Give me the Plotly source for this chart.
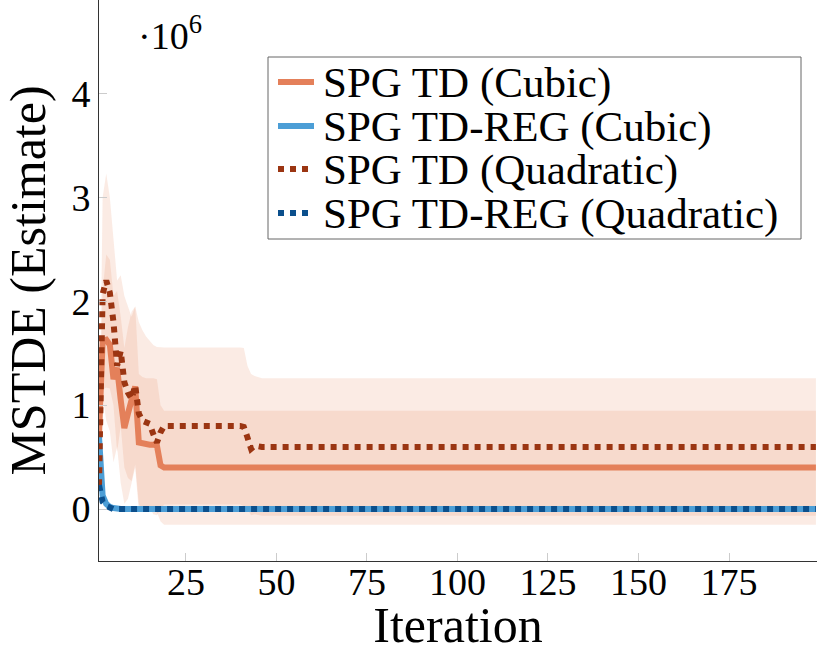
import plotly.graph_objects as go

# ---------------- data (values in units of 1e6) ----------------
cubic_x = [1, 2, 3, 4, 5, 6, 7, 8, 9, 10, 11, 12, 13, 14, 15, 16, 17, 18, 19, 199]
td_cubic = [0.70, 1.62, 1.63, 1.58, 1.25, 1.36, 1.05, 0.78, 0.92, 1.08, 1.18, 0.64,
            0.63, 0.62, 0.62, 0.62, 0.61, 0.42, 0.40, 0.40]
td_cubic_upper = [0.75, 2.10, 2.45, 2.40, 2.05, 2.10, 1.85, 1.55, 1.75, 1.90, 1.95, 1.30,
                  1.27, 1.26, 1.26, 1.26, 1.25, 1.00, 0.946, 0.946]
td_cubic_lower = [0.65, 1.10, 0.85, 0.75, 0.45, 0.60, 0.25, 0.05, 0.10, 0.25, 0.40, -0.02,
                  -0.02, -0.02, -0.02, -0.02, -0.03, -0.12, -0.15, -0.15]

quad_x = [1, 2, 3, 4, 5, 6, 7, 8, 9, 10, 11, 12, 13, 14, 15, 16, 17, 18, 19,
          40, 41, 42, 43, 44, 45, 46, 199]
td_quad = [0.23, 2.07, 2.20, 2.08, 1.80, 1.38, 1.52, 1.22, 1.12, 1.06, 1.19, 0.92, 0.85,
           0.84, 0.82, 0.72, 0.64, 0.74, 0.80, 0.80, 0.79, 0.69, 0.58, 0.61, 0.60, 0.597, 0.597]
td_quad_upper = [0.30, 3.00, 3.23, 3.00, 2.60, 2.20, 2.25, 2.05, 1.95, 1.85, 1.95, 1.80, 1.72,
                 1.66, 1.62, 1.58, 1.56, 1.556, 1.556, 1.556, 1.55, 1.38, 1.30, 1.28, 1.27,
                 1.258, 1.258]
td_quad_lower = [0.16, 1.15, 1.17, 1.16, 1.00, 0.55, 0.80, 0.40, 0.30, 0.27, 0.43, 0.05, -0.02,
                 0.02, 0.02, -0.05, -0.06, 0.0, 0.044, 0.044, 0.03, 0.0, -0.06, -0.05, -0.06,
                 -0.064, -0.064]

reg_cubic_x = [1, 2, 3, 4, 5, 6, 7, 199]
reg_cubic = [0.70, 0.13, 0.05, 0.02, 0.01, 0.005, 0.0, 0.0]

reg_quad_x = [1, 2, 3, 4, 5, 199]
reg_quad = [0.23, 0.07, 0.03, 0.01, 0.0, 0.0]

series_names = ["SPG TD (Cubic)", "SPG TD-REG (Cubic)",
                "SPG TD (Quadratic)", "SPG TD-REG (Quadratic)"]
x_ticks = [25, 50, 75, 100, 125, 150, 175]
y_ticks = [0, 1, 2, 3, 4]

# ---------------- styles ----------------
C_ORANGE = "#E4805A"
C_LBLUE = "#4C9ED6"
C_DRED = "#9B3512"
C_DBLUE = "#0B4F8C"
BAND = "rgba(228,128,88,0.16)"
FONT = "Liberation Serif"
LW = 6

fig = go.Figure()

# bands
for xs, up, lo in [(cubic_x, td_cubic_upper, td_cubic_lower),
                   (quad_x, td_quad_upper, td_quad_lower)]:
    fig.add_trace(go.Scatter(x=list(xs) + list(xs)[::-1], y=list(up) + list(lo)[::-1],
                             fill="toself", fillcolor=BAND, line=dict(width=0),
                             mode="lines", showlegend=False, hoverinfo="skip"))

# lines
fig.add_trace(go.Scatter(x=cubic_x, y=td_cubic, mode="lines", name=series_names[0],
                         line=dict(color=C_ORANGE, width=LW)))
fig.add_trace(go.Scatter(x=reg_cubic_x, y=reg_cubic, mode="lines", name=series_names[1],
                         line=dict(color=C_LBLUE, width=LW)))
fig.add_trace(go.Scatter(x=quad_x, y=td_quad, mode="lines", name=series_names[2],
                         line=dict(color=C_DRED, width=LW, dash="dot")))
fig.add_trace(go.Scatter(x=reg_quad_x, y=reg_quad, mode="lines", name=series_names[3],
                         line=dict(color=C_DBLUE, width=LW, dash="dot")))

W, H = 817, 653
ML, MR, MT, MB = 99, 0, 0, 92
PW, PH = W - ML - MR, H - MT - MB


def px(x):
    return (x - ML) / PW


def py(y):
    return 1 - (y - MT) / PH


# manual legend
shapes = [dict(type="rect", xref="paper", yref="paper",
               x0=px(268), x1=px(801), y0=py(239), y1=py(57),
               line=dict(color="#666666", width=1), fillcolor="white", layer="above")]
annotations = []
rows = [82, 126, 169, 213]
cols = [(C_ORANGE, "solid"), (C_LBLUE, "solid"), (C_DRED, "dot"), (C_DBLUE, "dot")]
for name, ry, (c, d) in zip(series_names, rows, cols):
    shapes.append(dict(type="line", xref="paper", yref="paper",
                       x0=px(278), x1=px(314), y0=py(ry), y1=py(ry),
                       line=dict(color=c, width=LW, dash=d), layer="above"))
    annotations.append(dict(xref="paper", yref="paper", x=px(321), y=py(ry + 1),
                            xanchor="left", yanchor="middle", showarrow=False,
                            text=name, font=dict(family=FONT, size=43, color="black")))

annotations.append(dict(xref="paper", yref="paper", x=px(136), y=py(33),
                        xanchor="left", yanchor="middle", showarrow=False,
                        text="·10<sup>6</sup>", font=dict(family=FONT, size=38, color="black")))

fig.update_layout(
    width=W, height=H,
    margin=dict(l=ML, r=MR, t=MT, b=MB, autoexpand=False),
    paper_bgcolor="white", plot_bgcolor="white",
    showlegend=False,
    shapes=shapes, annotations=annotations,
    font=dict(family=FONT, color="black"),
)
fig.update_xaxes(range=[1, 199.3], tickvals=x_ticks, ticktext=[str(v) for v in x_ticks],
                 showgrid=False, zeroline=False, showline=True, linecolor="#333333", linewidth=1,
                 ticks="inside", ticklen=8, tickcolor="#cccccc", tickwidth=1,
                 ticklabelstandoff=-13, automargin=False,
                 tickfont=dict(family=FONT, size=38),
                 title=dict(text="Iteration", font=dict(family=FONT, size=50), standoff=25))
fig.update_yaxes(range=[-0.5, 4.9], tickvals=y_ticks, ticktext=[str(v) for v in y_ticks],
                 showgrid=False, zeroline=False, showline=True, linecolor="#333333", linewidth=1,
                 ticks="inside", ticklen=8, tickcolor="#cccccc", tickwidth=1,
                 automargin=False,
                 tickfont=dict(family=FONT, size=38),
                 title=dict(text="MSTDE (Estimate)", font=dict(family=FONT, size=50), standoff=14))

fig.write_html("out.html")
